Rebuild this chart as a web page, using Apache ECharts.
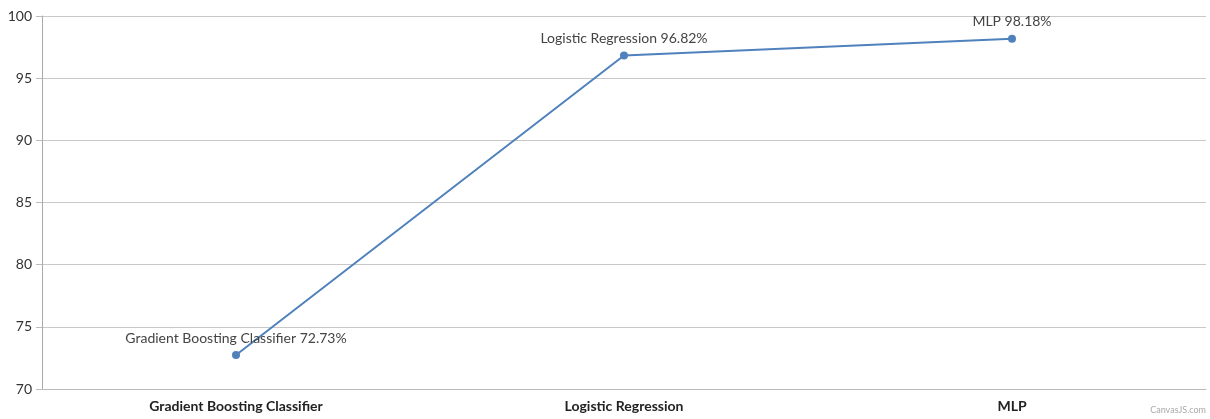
<!DOCTYPE html>
<html>
<head>
<meta charset="utf-8">
<script src="https://cdn.jsdelivr.net/npm/echarts@6/dist/echarts.min.js"></script>
<style>
  html, body { margin: 0; padding: 0; background: #fff; }
  #chart { width: 1210px; height: 419px; }
</style>
</head>
<body>
<div id="chart"></div>
<script>
// model names and accuracy (%)
const models = ['Gradient Boosting Classifier', 'Logistic Regression', 'MLP']
const accuracy = [72.73, 96.82, 98.18]
const pointLabels = ['Gradient Boosting Classifier 72.73%', 'Logistic Regression 96.82%', 'MLP 98.18%']

const chart = echarts.init(document.getElementById('chart'))
chart.setOption({
  animation: false,
  textStyle: { fontFamily: 'Lato, "Open Sans", sans-serif' },
  grid: { left: 42, right: 4, top: 16, bottom: 30 },
  xAxis: {
    type: 'category',
    data: models,
    boundaryGap: true,
    axisLine: { lineStyle: { color: '#bbb', width: 1 } },
    axisTick: { alignWithLabel: true, length: 5, lineStyle: { color: '#bbb' } },
    axisLabel: { color: '#222', fontSize: 14, fontWeight: 'bold', margin: 10 }
  },
  yAxis: {
    type: 'value',
    min: 70,
    max: 100,
    interval: 5,
    axisLine: { show: true, lineStyle: { color: '#aaa', width: 1 } },
    axisTick: { show: true, length: 6, lineStyle: { color: '#bbb' } },
    axisLabel: { color: '#333', fontSize: 14, margin: 10 },
    splitLine: { lineStyle: { color: '#c8c8c8', width: 1 } }
  },
  series: [
    {
      type: 'line',
      data: accuracy,
      symbol: 'circle',
      symbolSize: 8,
      lineStyle: { color: '#4f81bc', width: 2 },
      itemStyle: { color: '#4f81bc' },
      label: {
        show: true,
        position: 'top',
        distance: 6,
        color: '#444',
        fontSize: 14,
        formatter: p => pointLabels[p.dataIndex]
      }
    }
  ],
  graphic: [
    {
      type: 'text',
      right: 4,
      bottom: 4,
      style: { text: 'CanvasJS.com', fill: '#aaa', fontSize: 9, fontFamily: 'Lato, sans-serif' }
    }
  ]
})
</script>
</body>
</html>
